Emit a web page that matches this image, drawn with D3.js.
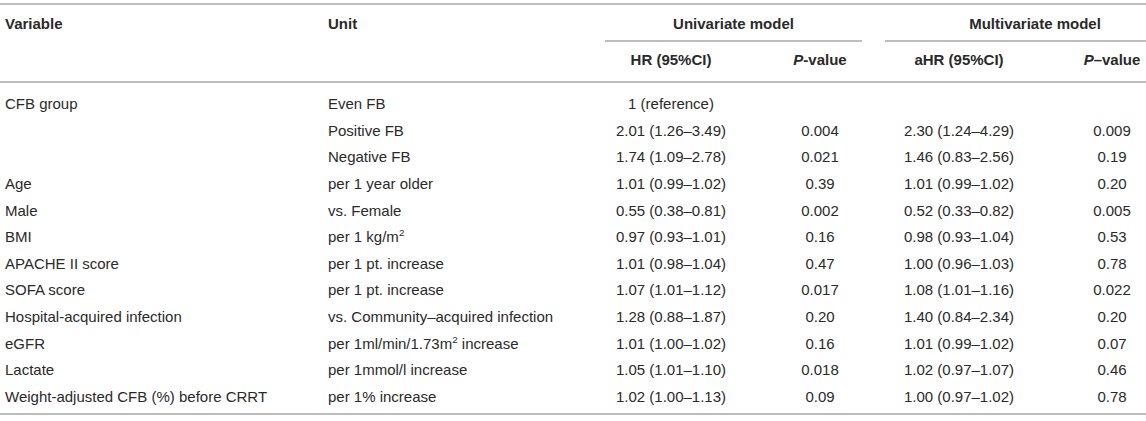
<!DOCTYPE html>
<html>
<head>
<meta charset="utf-8">
<script src="https://cdn.jsdelivr.net/npm/d3@7"></script>
<style>
  html, body { margin: 0; padding: 0; background: #fff; }
  svg { display: block; }
  text { font-family: "Liberation Sans", Arial, Helvetica, sans-serif; fill: #2a2a2a; }
</style>
</head>
<body>
<svg id="chart" width="1146" height="421"></svg>
<script>
// ---- data ----
const variables = ["CFB group", "", "", "Age", "Male", "BMI", "APACHE II score", "SOFA score",
  "Hospital-acquired infection", "eGFR", "Lactate", "Weight-adjusted CFB (%) before CRRT"];
const units = ["Even FB", "Positive FB", "Negative FB", "per 1 year older", "vs. Female",
  "per 1 kg/m^2", "per 1 pt. increase", "per 1 pt. increase", "vs. Community–acquired infection",
  "per 1ml/min/1.73m^2 increase", "per 1mmol/l increase", "per 1% increase"];
const uniHR   = [1, 2.01, 1.74, 1.01, 0.55, 0.97, 1.01, 1.07, 1.28, 1.01, 1.05, 1.02];
const uniLow  = [null, 1.26, 1.09, 0.99, 0.38, 0.93, 0.98, 1.01, 0.88, 1.00, 1.01, 1.00];
const uniHigh = [null, 3.49, 2.78, 1.02, 0.81, 1.01, 1.04, 1.12, 1.87, 1.02, 1.10, 1.13];
const uniP    = [null, "0.004", "0.021", "0.39", "0.002", "0.16", "0.47", "0.017", "0.20", "0.16", "0.018", "0.09"];
const multiHR   = [null, 2.30, 1.46, 1.01, 0.52, 0.98, 1.00, 1.08, 1.40, 1.01, 1.02, 1.00];
const multiLow  = [null, 1.24, 0.83, 0.99, 0.33, 0.93, 0.96, 1.01, 0.84, 0.99, 0.97, 0.97];
const multiHigh = [null, 4.29, 2.56, 1.02, 0.82, 1.04, 1.03, 1.16, 2.34, 1.02, 1.07, 1.02];
const multiP    = [null, "0.009", "0.19", "0.20", "0.005", "0.53", "0.78", "0.022", "0.20", "0.07", "0.46", "0.78"];
const groupHeaders = ["Univariate model", "Multivariate model"];
const colHeaders = [
  [{t: "HR (95%CI)"}],
  [{t: "P", i: true}, {t: "-value"}],
  [{t: "aHR (95%CI)"}],
  [{t: "P", i: true}, {t: "–value"}]
];

// ---- layout ----
const W = 1146, H = 421;
const svg = d3.select("#chart");
const fs = 15;
const f2 = d => d.toFixed(2);
const hrText = (h, l, u, i) => h == null ? "" : (l == null ? h + " (reference)" : `${f2(h)} (${f2(l)}–${f2(u)})`);

const rows = d3.range(variables.length);
const y = d3.scalePoint().domain(rows).range([104, 396.5]);
const colX = d3.scaleOrdinal().domain(["var", "unit", "hr", "p", "ahr", "p2"])
  .range([5, 328, 671, 820, 959, 1112]);

const lineColor = "#a8a8a8";
function hline(x1, x2, yy, w) {
  svg.append("line").attr("x1", x1).attr("x2", x2).attr("y1", yy).attr("y2", yy)
    .attr("stroke", lineColor).attr("stroke-width", w || 1.5);
}
hline(0, W, 4, 1.6);
hline(0, W, 82, 1.6);
hline(0, W, 414, 1.6);
hline(605, 862, 41, 1.4);
hline(885, W, 41, 1.4);

// header row 1
const h1y = 24, h2y = 60;
svg.append("text").attr("x", colX("var")).attr("y", h1y).attr("dy", "0.35em")
  .attr("font-size", fs).attr("font-weight", "bold").text("Variable");
svg.append("text").attr("x", colX("unit")).attr("y", h1y).attr("dy", "0.35em")
  .attr("font-size", fs).attr("font-weight", "bold").text("Unit");
svg.selectAll("text.grp").data(groupHeaders).join("text").attr("class", "grp")
  .attr("x", (d, i) => i === 0 ? 733.5 : 1035)
  .attr("y", h1y).attr("dy", "0.35em").attr("text-anchor", "middle")
  .attr("font-size", fs).attr("font-weight", "bold").text(d => d);

// header row 2
const hdrKeys = ["hr", "p", "ahr", "p2"];
svg.selectAll("text.colh").data(colHeaders).join("text").attr("class", "colh")
  .attr("x", (d, i) => colX(hdrKeys[i])).attr("y", h2y).attr("dy", "0.35em")
  .attr("text-anchor", "middle").attr("font-size", fs).attr("font-weight", "bold")
  .each(function(parts) {
    d3.select(this).selectAll("tspan").data(parts).join("tspan")
      .attr("font-style", p => p.i ? "italic" : null).text(p => p.t);
  });

// body
const g = svg.append("g");
g.selectAll("text.var").data(rows).join("text").attr("class", "var")
  .attr("x", colX("var")).attr("y", i => y(i)).attr("dy", "0.35em")
  .attr("font-size", fs).text(i => variables[i]);

g.selectAll("text.unit").data(rows).join("text").attr("class", "unit")
  .attr("x", colX("unit")).attr("y", i => y(i)).attr("dy", "0.35em")
  .attr("font-size", fs)
  .each(function(i) {
    const s = units[i];
    const el = d3.select(this);
    const parts = s.split(/\^(\d)/);
    parts.forEach((p, k) => {
      if (k % 2 === 1) {
        el.append("tspan").attr("font-size", fs * 0.65).attr("dy", -6).text(p);
      } else if (p.length) {
        el.append("tspan").attr("dy", k > 0 ? 6 : null).text(p);
      }
    });
  });

g.selectAll("text.hr").data(rows).join("text").attr("class", "hr")
  .attr("x", colX("hr")).attr("y", i => y(i)).attr("dy", "0.35em")
  .attr("text-anchor", "middle").attr("font-size", fs)
  .text(i => hrText(uniHR[i], uniLow[i], uniHigh[i]));
g.selectAll("text.p").data(rows).join("text").attr("class", "p")
  .attr("x", colX("p")).attr("y", i => y(i)).attr("dy", "0.35em")
  .attr("text-anchor", "middle").attr("font-size", fs)
  .text(i => uniP[i] || "");
g.selectAll("text.ahr").data(rows).join("text").attr("class", "ahr")
  .attr("x", colX("ahr")).attr("y", i => y(i)).attr("dy", "0.35em")
  .attr("text-anchor", "middle").attr("font-size", fs)
  .text(i => multiHR[i] == null ? "" : `${f2(multiHR[i])} (${f2(multiLow[i])}–${f2(multiHigh[i])})`);
g.selectAll("text.p2").data(rows).join("text").attr("class", "p2")
  .attr("x", colX("p2")).attr("y", i => y(i)).attr("dy", "0.35em")
  .attr("text-anchor", "middle").attr("font-size", fs)
  .text(i => multiP[i] || "");
</script>
</body>
</html>
